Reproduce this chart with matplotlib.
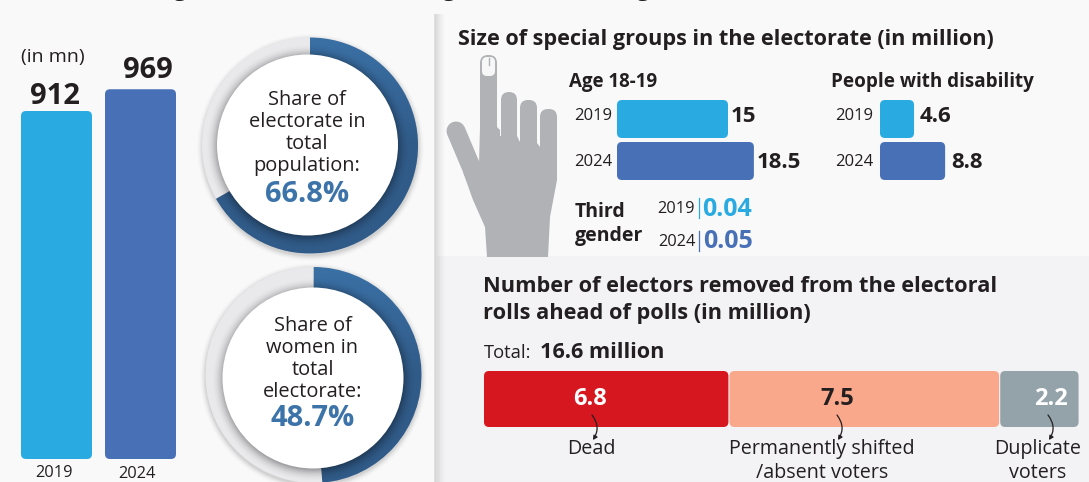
import numpy as np
import matplotlib
matplotlib.use("Agg")
import matplotlib.pyplot as plt
from matplotlib.patches import FancyBboxPatch, Circle, Polygon, FancyArrowPatch

plt.rcParams["font.family"] = ["Open Sans", "DejaVu Sans"]

# Electorate size (million)
years = ["2019", "2024"]
electorate = [912, 969]

# Shares (per cent)
share_population = 66.8
share_women = 48.7

# Special groups (million)
age_18_19 = [15, 18.5]
age_18_19_labels = ["15", "18.5"]
disability = [4.6, 8.8]
disability_labels = ["4.6", "8.8"]
third_gender_labels = ["0.04", "0.05"]

# Electors removed from the rolls (million)
removed_labels = ["Dead", "Permanently shifted\n/absent voters", "Duplicate\nvoters"]
removed_values = [6.8, 7.5, 2.2]

W, H = 1089, 482
INK = "#231f20"
CYAN = "#29abe2"
BLUE = "#4870b7"
RING = "#3c73a9"
RING_BG = "#e9e9ec"
HAND = "#b1b2b6"
PAGE = "#f9f9f9"
PANEL = "#f3f3f6"
STACK = ["#d7171f", "#faa88c", "#94a2a9"]

fig = plt.figure(figsize=(W / 100, H / 100), dpi=100, facecolor=PAGE)


def px_axes(x0, x1, y_top, y_bottom, zorder=1):
    ax = fig.add_axes([x0 / W, 1 - y_bottom / H, (x1 - x0) / W, (y_bottom - y_top) / H], zorder=zorder)
    ax.axis("off")
    ax.patch.set_alpha(0)
    return ax


def round_bar(ax, x, y, w, h, radius_px, color):
    """Rounded bar in data units; radius is given in pixels."""
    bbox = ax.get_position()
    xlim, ylim = ax.get_xlim(), ax.get_ylim()
    ux = abs(xlim[1] - xlim[0]) / (bbox.width * W)
    uy = abs(ylim[1] - ylim[0]) / (bbox.height * H)
    ax.add_patch(FancyBboxPatch((x, y), w, h, boxstyle=f"round,pad=0,rounding_size={radius_px * ux}",
                                mutation_aspect=uy / ux, fc=color, ec="none"))


# Page layer: panel tint, divider strip
bg = px_axes(0, W, 0, H, zorder=0)
bg.set_xlim(0, W)
bg.set_ylim(H, 0)
bg.add_patch(plt.Rectangle((437, 256), W - 437, H - 256, fc=PANEL, ec="none"))
strip = np.zeros((1, 40, 4))
strip[..., :3] = 0.45
strip[0, :, 3] = np.r_[np.linspace(0.05, 0.36, 4), np.linspace(0.36, 0, 36) ** 1.4]
bg.imshow(strip, extent=(434, 446, H, 14), aspect="auto", interpolation="bilinear", zorder=2)
bg.set_xlim(0, W)
bg.set_ylim(H, 0)

# Column chart of the electorate
ax = px_axes(21, 176, 80, 459)
ax.set_xlim(0, 155)
ax.set_ylim(0, 379 / (348 / 912))
for i, (value, col) in enumerate(zip(electorate, [CYAN, BLUE])):
    round_bar(ax, i * 84, 0, 71, value, 5, col)


def donut(share, cx, cy, wx, wy, lines, value_y):
    R, r = 108, 90.5
    ax = px_axes(cx - R, cx + R, cy - R, cy + R, zorder=1)
    ax.set_aspect("equal")
    wedges, _ = ax.pie([share, 100 - share], startangle=90, counterclock=False,
                       colors=[RING, RING_BG], radius=1, wedgeprops=dict(linewidth=0))
    ax.set_xlim(-1, 1)
    ax.set_ylim(-1, 1)
    xx, yy = np.meshgrid(np.linspace(-1, 1, 432), np.linspace(1, -1, 432))
    # Darkening across the coloured arc, heavier from the top downwards
    dark = np.zeros(xx.shape + (4,))
    dark[..., 0:3] = (0.1, 0.17, 0.28)
    dark[..., 3] = np.clip(0.34 - 0.3 * np.clip(yy, 0, 1), 0.05, 0.34)
    im = ax.imshow(dark, extent=(-1, 1, -1, 1), zorder=3, interpolation="bilinear")
    im.set_clip_path(wedges[0])
    # Soft shadow cast by the white disc
    ox, oy = (wx - cx) / R, (cy - wy) / R
    dist = np.hypot(xx - ox, yy - oy + 0.015) * R
    sh = np.zeros(xx.shape + (4,))
    sh[..., 3] = 0.45 * np.clip(1 - (dist - r + 3) / 15, 0, 1) ** 2
    im2 = ax.imshow(sh, extent=(-1, 1, -1, 1), zorder=4, interpolation="bilinear")
    im2.set_clip_path(Circle((0, 0), 1, transform=ax.transData))
    ax.add_patch(Circle((ox, oy), r / R, fc="white", ec="none", zorder=5))
    ax.set_xlim(-1, 1)
    ax.set_ylim(-1, 1)

    # Faint halo under the ring
    yy2, xx2 = np.mgrid[-1.15:1.15:300j, -1.15:1.15:300j]
    d = np.hypot(xx2, yy2 + 0.02) * R
    halo = np.zeros(xx2.shape + (4,))
    halo[..., 3] = 0.16 * np.clip(1 - (d - R) / 7, 0, 1) ** 2
    bg.imshow(halo, extent=(cx - 1.15 * R, cx + 1.15 * R, cy - 1.15 * R, cy + 1.15 * R),
              zorder=1, interpolation="bilinear", origin="upper")
    bg.set_xlim(0, W)
    bg.set_ylim(H, 0)

    tx = wx - 0.5
    for y, s in zip(lines[0], lines[1]):
        T(tx, y, s, 14.4, ha="center")
    T(tx, value_y, f"{share}%", 21, ha="center", weight="bold", color=RING)


# Text and artwork layer in pixel coordinates
top = px_axes(0, W, 0, H, zorder=5)
top.set_xlim(0, W)
top.set_ylim(H, 0)


def T(x, y, s, size, ha="left", weight="normal", color=INK, **kw):
    return top.text(x, y + 1, s, fontsize=size, ha=ha, va="center", weight=weight, color=color, **kw)


# Headline descenders cut off at the top edge
for x in (180, 449, 643):
    top.text(x, -4, "g", fontsize=16, ha="center", va="baseline", weight="bold", color=INK, clip_on=False)

T(53, 56, "(in mn)", 14, ha="center")
for x, y, s in zip((55, 148), (95, 70), electorate):
    T(x, y, str(s), 21, ha="center", weight="bold")
for x, y, s in zip((54, 137), (472, 473), years):
    T(x, y, s, 11.8, ha="center")

donut(share_population, 310, 145.5, 307.5, 145,
      ((99, 121, 143, 165), ("Share of", "electorate in", "total", "population:")), 193)
donut(share_women, 313.5, 375, 313, 378,
      ((325, 347, 369, 391), ("Share of", "women in", "total", "electorate:")), 417)

# Special groups
T(458, 38, "Size of special groups in the electorate (in million)", 15.6, weight="bold")
T(569, 81, "Age 18-19", 13.5, weight="bold")
T(831, 81, "People with disability", 13.6, weight="bold")

PX_PER_MN = 7.4
for x0, data, labels, year_right in ((617, age_18_19, age_18_19_labels, 612),
                                     (880, disability, disability_labels, 873)):
    ax = px_axes(x0, x0 + 148, 100, 180)
    ax.set_xlim(0, 148 / PX_PER_MN)
    ax.set_ylim(80, 0)
    for i, (value, col, year, lab) in enumerate(zip(data, [CYAN, BLUE], years, labels)):
        round_bar(ax, 0, i * 42, value, 38, 5, col)
        y = 115 + i * 46
        T(year_right, y, year, 12, ha="right")
        T(x0 + value * PX_PER_MN + (3 if x0 < 800 else 6), y, lab, 16, weight="bold")

T(575, 211, "Third", 14, weight="bold")
T(575, 235, "gender", 14, weight="bold")
for y, yr, lab, col, xr, xv in zip((208, 241), years, third_gender_labels, (CYAN, BLUE), (695, 696), (702, 703)):
    T(xr, y, yr, 11.8, ha="right")
    top.plot([699, 699], [y - 10, y + 10], color=col, lw=0.9)
    T(xv, y, lab, 18, weight="bold", color=col)

# Hand with an inked fingertip
for x0, x1, y0, y1 in ((480, 497, 55, 150), (501, 517, 92, 150), (520, 537, 100, 160), (540, 557, 109, 185)):
    top.add_patch(FancyBboxPatch((x0, y0), x1 - x0, y1 - y0, boxstyle="round,pad=0,rounding_size=8",
                                 fc=HAND, ec="none"))
top.add_patch(Polygon([(480, 127), (497, 127), (500, 130), (500, 136), (517, 136), (520, 142), (537, 143),
                       (540, 147), (557, 147), (557, 180), (550, 217), (548, 257), (487, 257),
                       (485, 227), (473, 200), (463, 172), (479, 164)], fc=HAND, ec="none"))
top.plot([456, 475], [131, 176], color=HAND, lw=19 * 0.72, solid_capstyle="round")
top.add_patch(FancyBboxPatch((482, 57), 13, 19, boxstyle="round,pad=0,rounding_size=5", fc="#f7f7f7", ec="none"))
top.plot([489, 489], [58, 65], color=HAND, lw=1.0)

# Removed electors
T(483, 285, "Number of electors removed from the electoral", 15.7, weight="bold")
T(483, 312, "rolls ahead of polls (in million)", 15.7, weight="bold")
T(484, 352, "Total:", 13.2)
T(540, 352, "16.6 million", 15.6, weight="bold")

ax = px_axes(484, 1080, 371, 427)
ax.set_xlim(0, 596 / 36.1)
ax.set_ylim(0, 1)
left = 0
centres = (589.5, 837, 1051)
label_x = (591, 822, 1038)
arrow_x = (592, 837, 1048)
for value, col, lab, cx, lx, ax0 in zip(removed_values, STACK, removed_labels, centres, label_x, arrow_x):
    round_bar(ax, left, 0, value - 0.03, 1, 5, col)
    left += value
    T(cx, 398, f"{value}", 17, ha="center", weight="bold", color=INK if col == STACK[1] else "white")
    top.add_patch(FancyArrowPatch((ax0, 415), (ax0 + 1, 440), connectionstyle="arc3,rad=-0.35",
                                  arrowstyle="-|>,head_length=2.4,head_width=1.3", lw=0.9, color=INK,
                                  shrinkA=0, shrinkB=0))
    for j, s in enumerate(lab.split("\n")):
        T(lx, 448 + j * 24, s, 14.2, ha="center")

fig.savefig("out.png", dpi=100, facecolor=PAGE)
